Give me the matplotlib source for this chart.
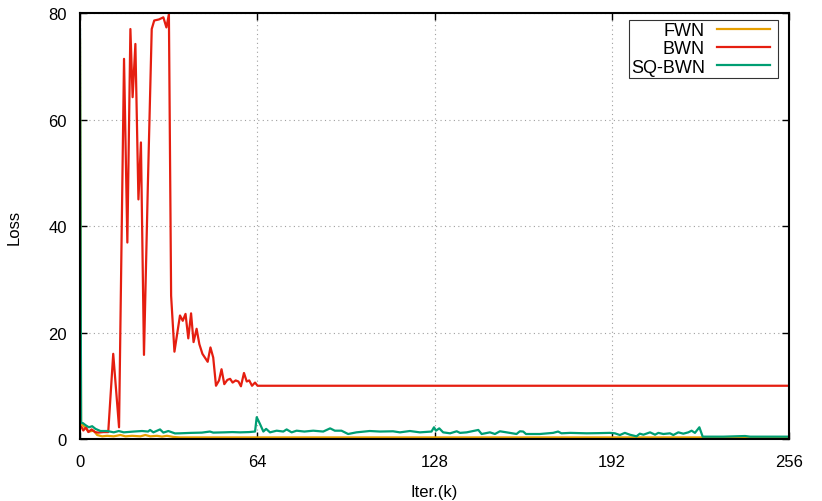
import matplotlib
matplotlib.use("Agg")
import matplotlib.pyplot as plt
from matplotlib.legend_handler import HandlerLine2D

plt.rcParams['font.family'] = ['Liberation Sans', 'DejaVu Sans']

# FWN loss
fwn_x = [0, 0.4, 1.2, 2.0, 3.2, 5.0, 6.2, 8.0, 9.8, 12.2, 14.6, 16.4, 18.8, 21.8,
         23.6, 25.4, 27.8, 29.6, 31.4, 33.8, 36, 256]
fwn_y = [75, 2.8, 2.5, 2.0, 1.4, 1.56, 0.75, 0.5, 0.6, 0.5, 0.75, 0.5, 0.6, 0.5,
         0.75, 0.5, 0.6, 0.45, 0.6, 0.38, 0.3, 0.3]

# BWN loss
bwn_x = [0, 0.6, 1.2, 2.2, 3.0, 4.2, 5.4, 6.6, 8.4, 10.2, 12.0, 14.1, 15.9, 17.1,
         18.2, 19.0, 20.0, 21.1, 22.0, 23.1, 24.5, 25.9, 26.8, 28.5, 30.1, 31.2,
         32.1, 32.9, 34.1, 36.1, 37.1, 38.1, 39.1, 40.1, 41.0, 42.1, 43.1, 44.2,
         46.1, 47.1, 48.1, 49.1, 50.2, 51.1, 52.1, 53.2, 54.2, 55.1, 56.2, 57.2,
         58.1, 59.2, 60.2, 61.1, 62.1, 63.2, 64.1, 256]
bwn_y = [2.5, 2.2, 1.6, 2.2, 1.3, 1.8, 1.3, 1.2, 1.3, 1.3, 16.0, 2.2, 71.4, 36.9,
         77.0, 64.2, 74.2, 45.0, 55.7, 15.8, 47.6, 77.0, 78.6, 78.8, 79.2, 77.3,
         79.8, 26.9, 16.4, 23.2, 22.2, 23.5, 18.9, 23.6, 18.2, 20.7, 17.8, 16.0,
         14.5, 17.2, 15.3, 10.0, 11.0, 13.1, 10.3, 11.1, 11.3, 10.6, 11.0, 10.8,
         9.9, 12.4, 10.8, 11.0, 10.0, 10.6, 10.0, 10.0]

# SQ-BWN loss
sq_x = [0, 0.4, 1.0, 2.0, 3.2, 4.4, 5.6, 7.4, 9.8, 12.2, 14.0, 15.8, 19.4, 22.4,
        24.6, 25.3, 26.5, 28.9, 30.1, 31.9, 34.3, 36.1, 40, 44, 46.9, 48.1, 52, 55,
        57.8, 61, 63.2, 63.8, 65.0, 66.2, 67.2, 68.6, 71.0, 73.4, 74.6, 76.4, 78.2,
        81, 84.2, 87.8, 90.3, 92.0, 94.4, 95.6, 96.8, 99.8, 104.6, 108.3, 113,
        115.5, 119.1, 122.7, 126.9, 127.8, 128.5, 129.7, 131.1, 133.6, 136.0,
        137.2, 139.6, 143.8, 145.0, 148.0, 149.8, 151.6, 154.0, 157.6, 158.8,
        160.0, 161.0, 166.0, 170.8, 172.6, 173.8, 177, 182.9, 187, 191.3, 193.1,
        194.9, 196.7, 198.5, 200.9, 202.1, 203.4, 205.8, 207.6, 208.8, 210.6,
        213.0, 214.2, 216.0, 217.8, 219.6, 220.8, 222.0, 223.6, 224.8, 232.3,
        240.1, 241.9, 256]
sq_y = [77, 3.0, 3.0, 2.6, 2.2, 2.4, 1.9, 1.5, 1.5, 1.25, 1.5, 1.25, 1.4, 1.5,
        1.4, 1.7, 1.25, 1.8, 1.2, 1.5, 1.05, 1.07, 1.15, 1.2, 1.4, 1.2, 1.25, 1.3,
        1.25, 1.3, 1.4, 4.1, 2.8, 1.4, 1.9, 1.25, 1.56, 1.4, 1.8, 1.25, 1.56,
        1.4, 1.56, 1.4, 2.0, 1.56, 1.56, 1.25, 0.94, 1.25, 1.5, 1.4, 1.45,
        1.25, 1.5, 1.25, 1.4, 2.2, 1.56, 2.0, 1.25, 1.07, 1.45,
        1.15, 1.25, 1.7, 0.94, 1.25, 0.94, 1.45, 1.25, 0.94, 1.45,
        1.4, 0.94, 0.94, 1.15, 1.4, 1.07, 1.15, 1.07, 1.1, 1.15, 1.07,
        0.75, 1.15, 0.81, 0.5, 1.0, 0.81, 1.25, 0.81, 1.15, 0.94,
        1.07, 0.75, 1.25, 1.0, 1.25, 1.56, 1.15, 2.2, 0.44, 0.44,
        0.56, 0.44, 0.44]

x_ticks = [0, 64, 128, 192, 256]
y_ticks = [0, 20, 40, 60, 80]


class ShortLine(HandlerLine2D):
    # legend sample stops a bit before the box edge, like gnuplot's key
    def get_xdata(self, legend, xdescent, ydescent, width, height, fontsize):
        gap = 0.36 * fontsize
        return [-xdescent, -xdescent + width - gap], [-xdescent + 0.5 * width]


fig, ax = plt.subplots(figsize=(8.22, 5.02), dpi=100)
fig.subplots_adjust(left=0.0973, right=0.96, top=0.972, bottom=0.1235)

ax.plot(fwn_x, fwn_y, color="#E69F00", lw=1.6, label="FWN")
ax.plot(bwn_x, bwn_y, color="#E51E10", lw=1.6, label="BWN")
ax.plot(sq_x, sq_y, color="#009E73", lw=1.6, label="SQ-BWN")

ax.set_xlim(0, 256)
ax.set_ylim(0, 80)
ax.set_xticks(x_ticks)
ax.set_yticks(y_ticks)
ax.tick_params(direction="in", top=True, right=True, length=5, width=1,
               labelsize=12)
ax.tick_params(axis="x", pad=10.5)
ax.tick_params(axis="y", pad=9.5)
ax.grid(True, color="#a0a0a0", linestyle=(0, (1, 3)), linewidth=0.8)
for s in ax.spines.values():
    s.set_linewidth(1.5)

ax.set_xlabel("Iter.(k)", fontsize=12, labelpad=11)
ax.set_ylabel("Loss", fontsize=12, labelpad=19)

leg = ax.legend(loc="upper right", bbox_to_anchor=(0.9845, 0.9836), borderaxespad=0,
                markerfirst=False, fancybox=False, fontsize=13, handlelength=3.3,
                labelspacing=0.08, borderpad=0.1, handletextpad=0.66,
                handler_map={plt.Line2D: ShortLine()})
leg.get_frame().set_edgecolor("black")
leg.get_frame().set_linewidth(0.8)

plt.savefig("out.png")
